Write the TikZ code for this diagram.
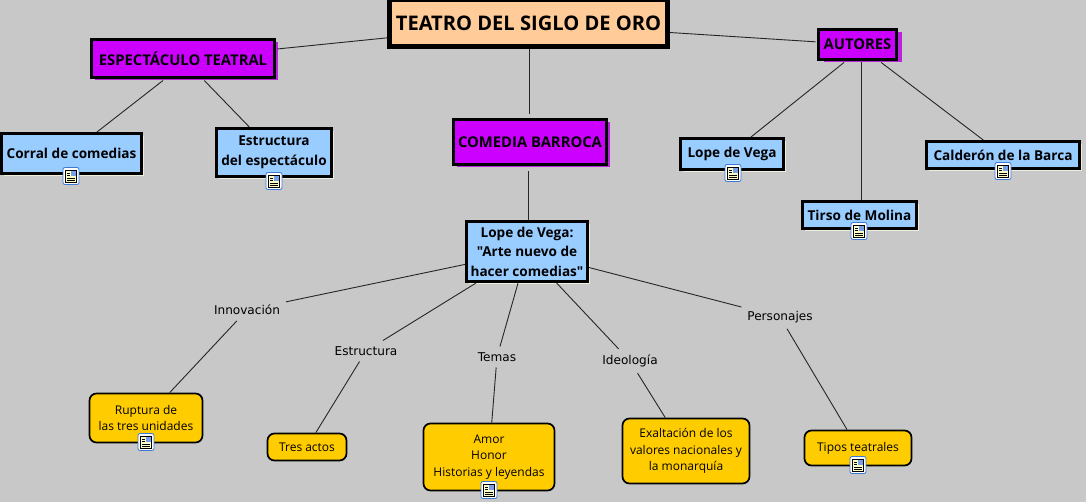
\documentclass[tikz,border=0pt]{standalone}
\usepackage{fontspec}
\usepackage{xcolor}
\usepackage{tikz}
\usetikzlibrary{shadows}
\setmainfont{Open Sans}[Ligatures=TeXOff]
\newfontfamily\labelfont{DejaVu Sans}
\definecolor{paper}{HTML}{C8C8C8}
\definecolor{peach}{HTML}{FFCC99}
\definecolor{violet}{HTML}{CC00FF}
\definecolor{violetshade}{HTML}{BB22DD}
\definecolor{sky}{HTML}{99CCFF}
\definecolor{cream}{HTML}{EEEEDD}
\definecolor{gold}{HTML}{FFCC00}
\definecolor{crimson}{HTML}{B0103C}
\definecolor{iconblue}{HTML}{3C78D8}
\definecolor{iconpage}{HTML}{FFFFCC}
\tikzset{
  titlebox/.style={draw=black, line width=5pt, fill=peach, align=center, inner sep=0pt,
    general shadow={shadow xshift=1.5pt, shadow yshift=-1.5pt, fill=crimson},
    font=\fontsize{20.1}{24}\selectfont\bfseries},
  themebox/.style={draw=black, line width=3pt, fill=violet, align=center, inner sep=0pt, outer sep=3pt,
    general shadow={shadow xshift=#1, shadow yshift=-3pt, fill=violetshade},
    font=\fontsize{14.8}{18}\selectfont\bfseries},
  themebox/.default=3pt,
  authorbox/.style={draw=black, line width=3pt, fill=sky, align=center, inner sep=0pt,
    general shadow={shadow xshift=2.5pt, shadow yshift=-2.5pt, fill=cream},
    font=\fontsize{13.6}{19.5}\selectfont\bfseries},
  notebox/.style={draw=black, line width=1.7pt, fill=gold, align=center, inner sep=0pt, rounded corners=7pt,
    font=\fontsize{12}{16.5}\selectfont},
  linklabel/.style={inner sep=2pt, outer sep=4pt, font=\labelfont\fontsize{12.1}{14}\selectfont},
  linkline/.style={draw=black!85, line width=.9pt},
  noteicon/.pic={
    \draw[iconblue, fill=white, line width=.8pt, rounded corners=2pt] (-8,-8.5) rectangle (8,8.5);
    \draw[black, fill=iconpage, line width=.6pt] (-5.5,-6) rectangle (5.5,6);
    \fill[iconblue!70] (0,-5) rectangle (5,0);
    \draw[black, line width=.7pt] (-4,-3) -- (-1,-3) (-4,-.5) -- (-1,-.5) (-4,2) -- (4,2) (-4,4) -- (4,4);
  }
}
\begin{document}
\begin{tikzpicture}[x=1pt,y=-1pt]
  \fill[paper] (0,0) rectangle (1086,502);
  \useasboundingbox (0,0) rectangle (1086,502);

  \node[titlebox, minimum width=278pt, minimum height=47pt] (teatro) at (528.5,23.5) {TEATRO DEL SIGLO DE ORO};

  \node[themebox, minimum width=183pt, minimum height=38pt] (espectaculo) at (183,58.5) {ESPECTÁCULO TEATRAL};
  \node[themebox, minimum width=153pt, minimum height=45pt] (comedia) at (530,142) {COMEDIA BARROCA};
  \node[themebox=5pt, minimum width=78pt, minimum height=30pt] (autores) at (857.5,44.5) {AUTORES};

  \node[authorbox, minimum width=140pt, minimum height=40pt] (corral) at (71.5,153.5) {Corral de comedias};
  \node[authorbox, minimum width=115pt, minimum height=48pt] (estructura) at (274,152.5) {Estructura\\del espectáculo};
  \node[authorbox, minimum width=103pt, minimum height=31pt] (lope) at (732,154) {Lope de Vega};
  \node[authorbox, minimum width=153pt, minimum height=27pt] (calderon) at (1003,155) {Calderón de la Barca};
  \node[authorbox, minimum width=114pt, minimum height=27pt] (tirso) at (859.5,215) {Tirso de Molina};
  \node[authorbox, minimum width=121pt, minimum height=60pt] (arte) at (527,251.5) {Lope de Vega:\\"Arte nuevo de\\hacer comedias"};

  \node[notebox, minimum width=113pt, minimum height=49pt] (ruptura) at (146,418) {Ruptura de\\las tres unidades};
  \node[notebox, minimum width=79pt, minimum height=27pt] (actos) at (307,447) {Tres actos};
  \node[notebox, minimum width=131pt, minimum height=67pt] (amor) at (489,457) {Amor\\Honor\\Historias y leyendas};
  \node[notebox, minimum width=127pt, minimum height=65pt] (exaltacion) at (686,451) {Exaltación de los\\valores nacionales y\\la monarquía};
  \node[notebox, minimum width=107pt, minimum height=35pt] (tipos) at (858,448) {Tipos teatrales};

  \node[linklabel] (innovacion) at (247,310) {Innovación};
  \node[linklabel] (forma) at (366,351) {Estructura};
  \node[linklabel] (temas) at (497,357) {Temas};
  \node[linklabel] (ideologia) at (630,361) {Ideología};
  \node[linklabel] (personajes) at (780,317) {Personajes};

  \draw[linkline] (teatro) -- (espectaculo);
  \draw[linkline, shorten >=2pt] ([xshift=.5pt]teatro.south) -- ([xshift=-1pt]comedia.north);
  \draw[linkline] (teatro) -- (autores);
  \draw[linkline] ([xshift=-20pt]espectaculo.south) -- ([xshift=25.5pt]corral.north);
  \draw[linkline] (espectaculo) -- (estructura);
  \draw[linkline, shorten <=4pt] ([xshift=-1.5pt]comedia.south) -- ([xshift=1.5pt]arte.north);
  \draw[linkline] ([xshift=-13.5pt]autores.south) -- ([xshift=19pt]lope.north);
  \draw[linkline] ([xshift=3.5pt]autores.south) -- ([xshift=1.5pt]tirso.north);
  \draw[linkline] (autores) -- (calderon);
  \draw[linkline] (arte) -- (innovacion);
  \draw[linkline] (innovacion) -- (ruptura);
  \draw[linkline] (arte) -- (forma);
  \draw[linkline] (forma) -- (actos);
  \draw[linkline] (arte) -- (temas);
  \draw[linkline] (temas) -- (amor);
  \draw[linkline] (arte) -- (ideologia);
  \draw[linkline] (ideologia) -- (exaltacion);
  \draw[linkline] (arte) -- (personajes);
  \draw[linkline] (personajes) -- (tipos);

  \foreach \px/\py in {71/176, 274/181, 733/173, 1003/171, 859/231, 146/442, 489/490, 858/465}
    \pic at (\px,\py) {noteicon};
\end{tikzpicture}
\end{document}
